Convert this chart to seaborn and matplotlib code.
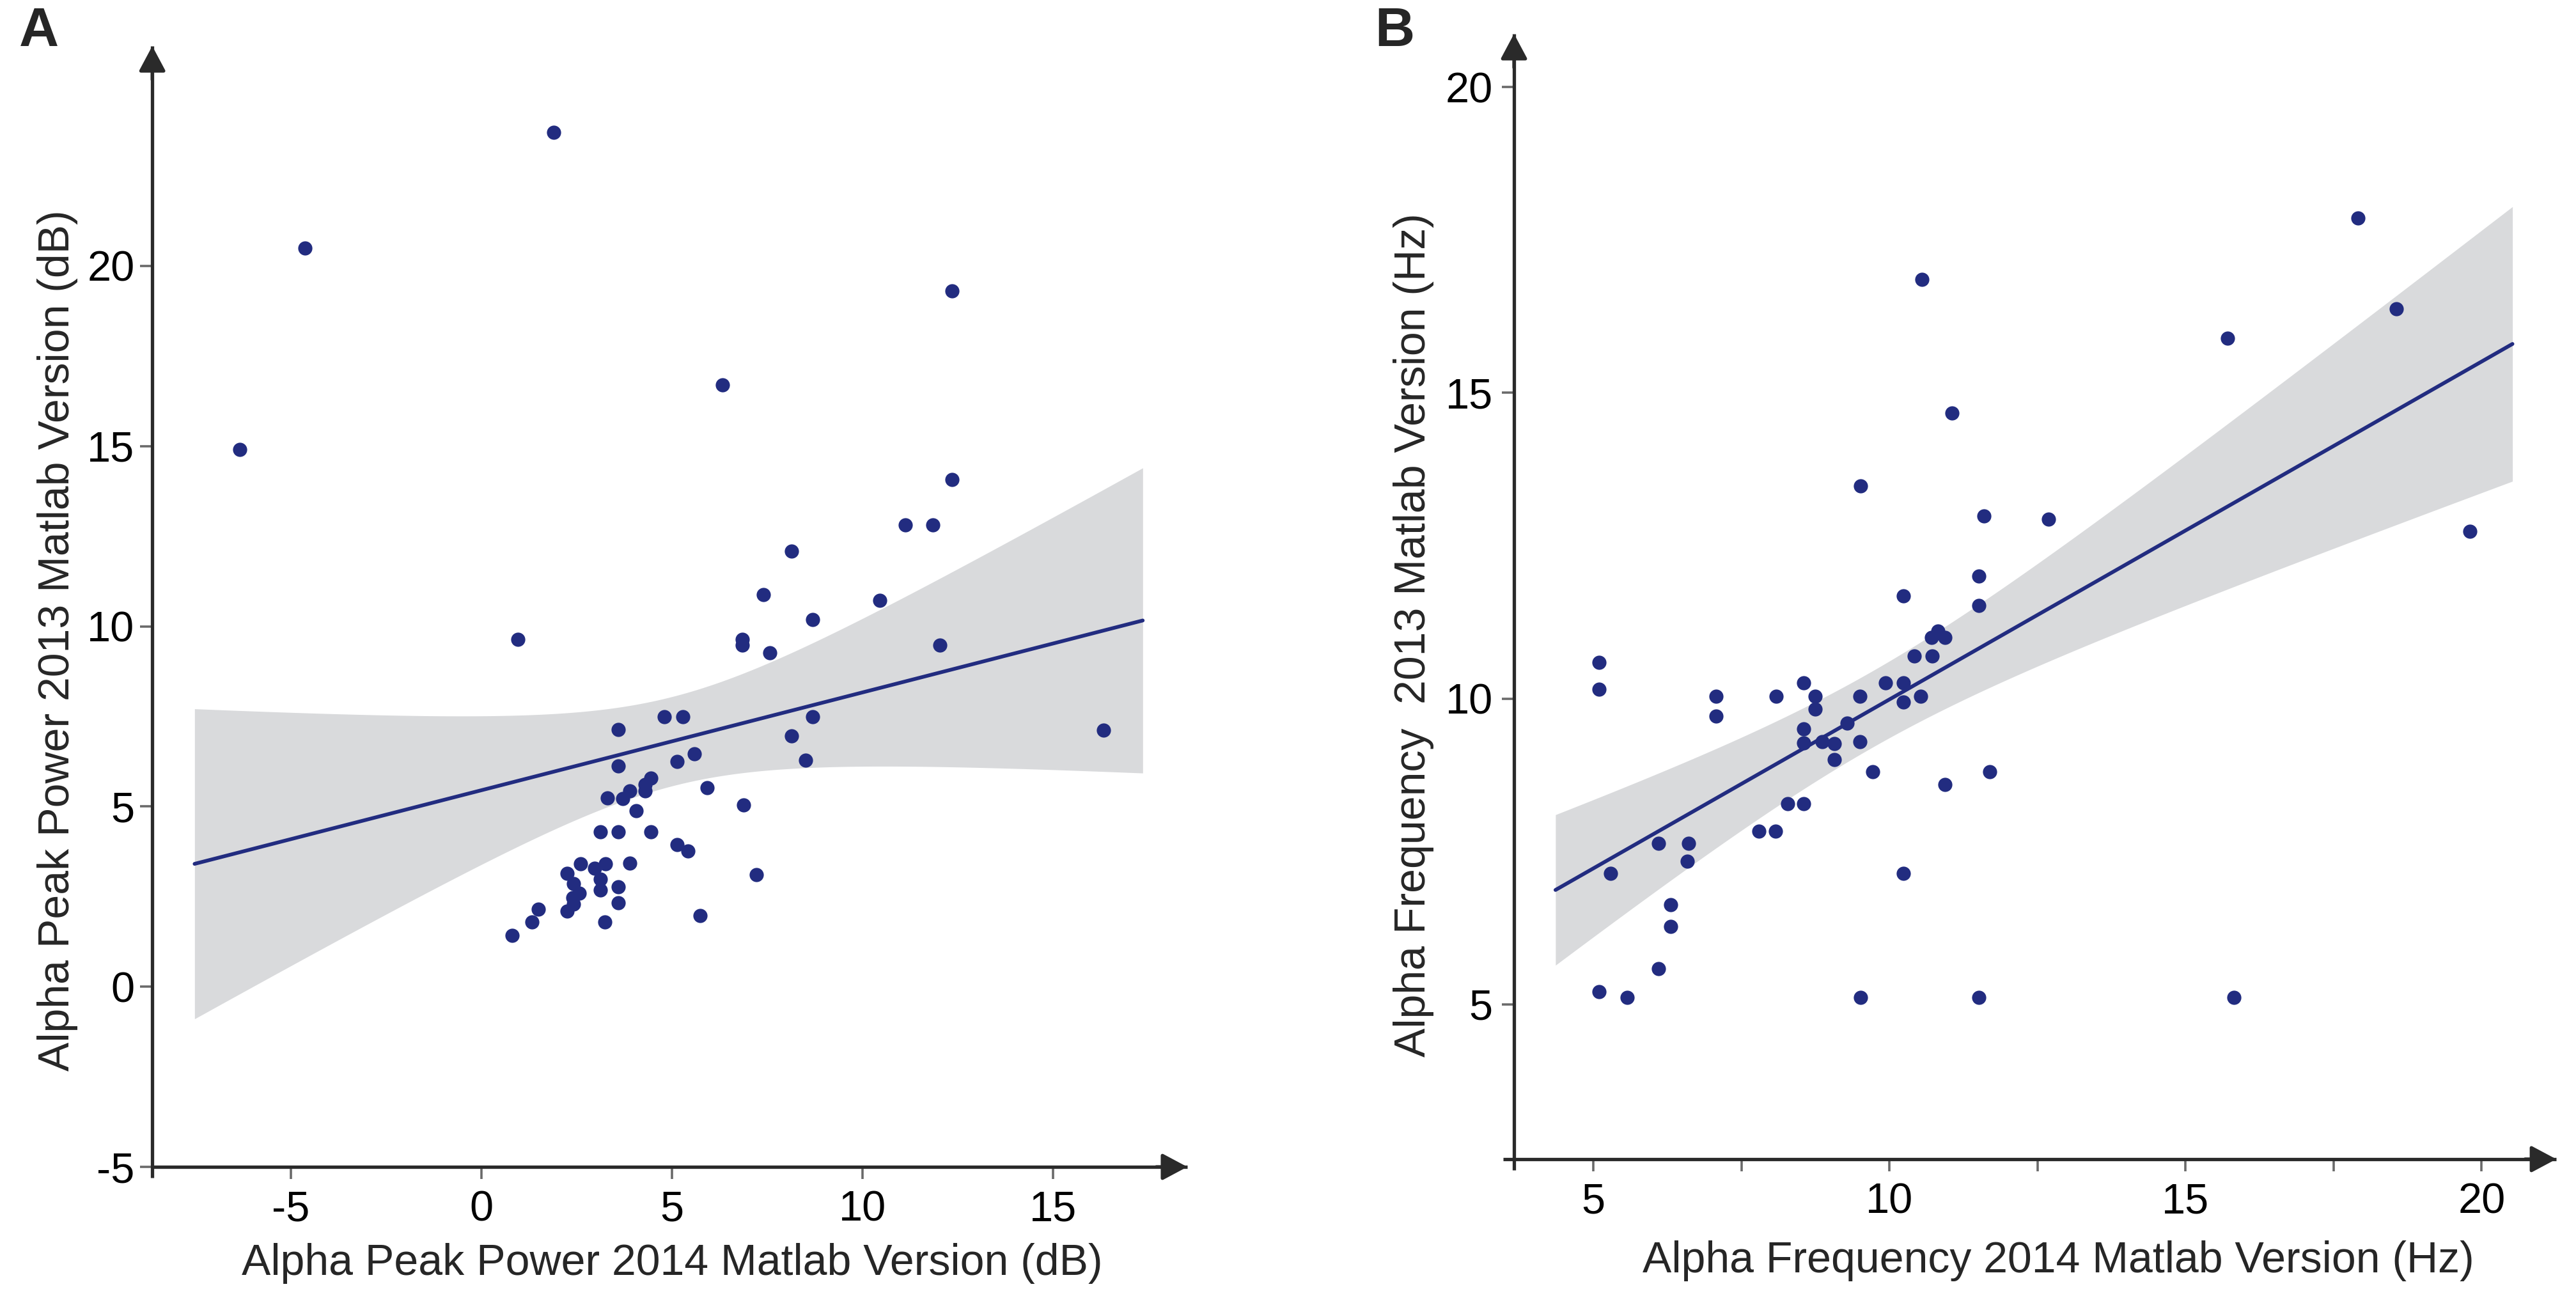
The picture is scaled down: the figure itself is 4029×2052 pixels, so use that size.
import numpy as np
import pandas as pd
import matplotlib
matplotlib.use("Agg")
import matplotlib.pyplot as plt
import seaborn as sns

# ---------------- data ----------------
# Panel A: Alpha peak power (dB)
power_2014 = [1.90, -4.64, -6.35, 12.35, 6.33, 12.35, 11.12, 11.84, 8.14, 7.39,
              10.45, 8.68, 0.95, 6.85, 6.85, 7.56, 12.03, 16.33,
              3.59, 4.80, 5.29, 8.68, 8.13, 5.58, 5.13, 8.50, 3.59, 4.45,
              4.30, 4.29, 5.92, 3.89, 3.71, 3.30, 6.87, 4.05, 3.12, 3.59,
              4.45, 5.13, 5.41, 2.59, 3.26, 3.89, 2.96, 2.24, 7.21, 2.42,
              3.12, 3.12, 3.59, 2.57, 2.39, 3.59, 2.42, 1.49, 2.24, 5.74,
              1.33, 3.24, 0.80]
power_2013 = [23.7, 20.5, 14.9, 19.3, 16.7, 14.07, 12.81, 12.81, 12.09, 10.88,
              10.72, 10.19, 9.63, 9.63, 9.47, 9.26, 9.47, 7.12,
              7.13, 7.49, 7.49, 7.49, 6.96, 6.47, 6.25, 6.29, 6.13, 5.79,
              5.61, 5.43, 5.52, 5.44, 5.22, 5.24, 5.05, 4.88, 4.29, 4.29,
              4.29, 3.94, 3.76, 3.41, 3.41, 3.43, 3.29, 3.14, 3.11, 2.86,
              2.98, 2.68, 2.77, 2.59, 2.47, 2.32, 2.29, 2.15, 2.09, 1.97,
              1.79, 1.79, 1.42]

# Panel B: Alpha frequency (Hz)
freq_2014 = [17.91, 10.55, 18.56, 15.71, 11.06, 9.51, 11.59, 12.69, 19.80, 11.51,
             10.24, 11.51,
             5.10, 5.10, 7.07, 7.07,
             10.82, 10.71, 10.94, 10.42, 10.72, 8.55, 9.93, 10.23, 8.09, 8.75,
             9.50, 10.53, 10.23, 8.75, 9.29, 8.55, 8.55, 8.86, 9.07, 9.50,
             9.07, 9.72, 11.69, 10.94, 8.28, 8.55, 7.80, 8.08,
             6.10, 6.61, 6.59, 5.29, 10.24, 6.31, 6.31, 6.10, 5.10, 5.57,
             9.51, 11.51, 15.82]
freq_2013 = [17.86, 16.86, 16.37, 15.89, 14.67, 13.48, 12.99, 12.93, 12.74, 12.00,
             11.68, 11.52,
             10.59, 10.15, 10.04, 9.71,
             11.11, 11.00, 11.00, 10.70, 10.70, 10.26, 10.26, 10.26, 10.04, 10.04,
             10.04, 10.04, 9.94, 9.83, 9.60, 9.51, 9.28, 9.30, 9.27, 9.30,
             9.00, 8.81, 8.81, 8.60, 8.28, 8.28, 7.83, 7.83,
             7.63, 7.63, 7.34, 7.14, 7.14, 6.63, 6.27, 5.59, 5.21, 5.11,
             5.11, 5.11, 5.11]

# axis texts and ticks
panel_letters = ["A", "B"]
xlabel_a = "Alpha Peak Power 2014 Matlab Version (dB)"
ylabel_a = "Alpha Peak Power 2013 Matlab Version (dB)"
xlabel_b = "Alpha Frequency 2014 Matlab Version (Hz)"
ylabel_b = "Alpha Frequency  2013 Matlab Version (Hz)"
xticks_a = [-5, 0, 5, 10, 15]
yticks_a = [-5, 0, 5, 10, 15, 20]
xticks_b = [5, 7.5, 10, 12.5, 15, 17.5, 20]
xticklabels_b = ["5", "", "10", "", "15", "", "20"]
yticks_b = [5, 10, 15, 20]

# ---------------- style ----------------
sns.set_theme(style="white")
plt.rcParams["font.family"] = ["Liberation Sans", "DejaVu Sans"]

NAVY = "#222C80"
BAND = "#D9DADC"
AXC = "#2A2A2A"
TICKC = "#6A6A6A"
T975 = 2.0  # two-sided 95% t quantile for ~55-60 degrees of freedom

df_a = pd.DataFrame({"x": power_2014, "y": power_2013})
df_b = pd.DataFrame({"x": freq_2014, "y": freq_2013})

fig = plt.figure(figsize=(20.15, 10.26), dpi=200)
ax_a = fig.add_axes([0.0591, 0.1106, 0.4017, 0.8543])
ax_b = fig.add_axes([0.5876, 0.1165, 0.4045, 0.8577])


def draw_panel(ax, df, fit_range, xlim, ylim):
    # fit line spans fit_range (regplot uses current xlim when truncate=False)
    ax.set_xlim(fit_range)
    sns.regplot(data=df, x="x", y="y", ax=ax, truncate=False, ci=None,
                color=NAVY,
                scatter_kws=dict(s=64, linewidths=0, alpha=1, zorder=3),
                line_kws=dict(lw=2.1, zorder=2))
    # analytic 95% confidence band of the OLS fit
    x = df["x"].to_numpy()
    y = df["y"].to_numpy()
    n = len(x)
    slope, inter = np.polyfit(x, y, 1)
    resid = y - (inter + slope * x)
    s = np.sqrt(np.sum(resid ** 2) / (n - 2))
    sxx = np.sum((x - x.mean()) ** 2)
    grid = np.linspace(fit_range[0], fit_range[1], 200)
    yhat = inter + slope * grid
    half = T975 * s * np.sqrt(1.0 / n + (grid - x.mean()) ** 2 / sxx)
    ax.fill_between(grid, yhat - half, yhat + half, color=BAND, lw=0, zorder=1)

    ax.set_xlim(xlim)
    ax.set_ylim(ylim)
    for sp in ["top", "right"]:
        ax.spines[sp].set_visible(False)
    for sp in ["left", "bottom"]:
        ax.spines[sp].set_color(AXC)
        ax.spines[sp].set_linewidth(1.9)
        ax.spines[sp].set_capstyle("butt")
    ax.tick_params(axis="both", which="major", direction="out", length=7,
                   width=1.3, color=TICKC, labelsize=24, labelcolor="black",
                   bottom=True, left=True)
    ax.set_xlabel("")
    ax.set_ylabel("")
    arrow = dict(arrowstyle="-|>,head_length=0.6,head_width=0.32",
                 mutation_scale=20, color=AXC, lw=1.9, shrinkA=0, shrinkB=0)
    ax.annotate("", xy=(1, 0), xytext=(0.97, 0), xycoords="axes fraction",
                arrowprops=arrow, annotation_clip=False)
    ax.annotate("", xy=(0, 1), xytext=(0, 0.97), xycoords="axes fraction",
                arrowprops=arrow, annotation_clip=False)


# Panel A
draw_panel(ax_a, df_a, (-7.53, 17.35), (-8.64, 18.52), (-5.0, 26.1))
ax_a.set_xticks(xticks_a)
ax_a.set_xticklabels([str(t) for t in xticks_a])
ax_a.set_yticks(yticks_a)
ax_a.set_yticklabels([str(t) for t in yticks_a])
ax_a.tick_params(axis="x", pad=6)
ax_a.tick_params(axis="y", pad=3)
ax_a.spines["left"].set_bounds(-5.3, 26.1)
ax_a.set_xlabel(xlabel_a, fontsize=24.5)
ax_a.xaxis.set_label_coords(0.502, -0.068)
ax_a.set_ylabel(ylabel_a, fontsize=24.5)
ax_a.yaxis.set_label_coords(-0.072, 0.47)

# Panel B
draw_panel(ax_b, df_b, (4.36, 20.52), (3.66, 21.26), (2.47, 20.87))
ax_b.set_xticks(xticks_b)
ax_b.set_xticklabels(xticklabels_b)
ax_b.set_yticks(yticks_b)
ax_b.set_yticklabels([str(t) for t in yticks_b])
ax_b.tick_params(axis="x", pad=6)
ax_b.tick_params(axis="y", pad=5)
ax_b.spines["left"].set_bounds(2.29, 20.87)
ax_b.spines["bottom"].set_bounds(3.48, 21.26)
ax_b.set_xlabel(xlabel_b, fontsize=24.5)
ax_b.xaxis.set_label_coords(0.522, -0.072)
ax_b.set_ylabel(ylabel_b, fontsize=24.5)
ax_b.yaxis.set_label_coords(-0.077, 0.466)

fig.text(0.0075, 0.995, panel_letters[0], fontsize=31, fontweight="bold",
         ha="left", va="top")
fig.text(0.5335, 0.995, panel_letters[1], fontsize=31, fontweight="bold",
         ha="left", va="top")

fig.savefig("out.png", dpi=200, facecolor="white")
